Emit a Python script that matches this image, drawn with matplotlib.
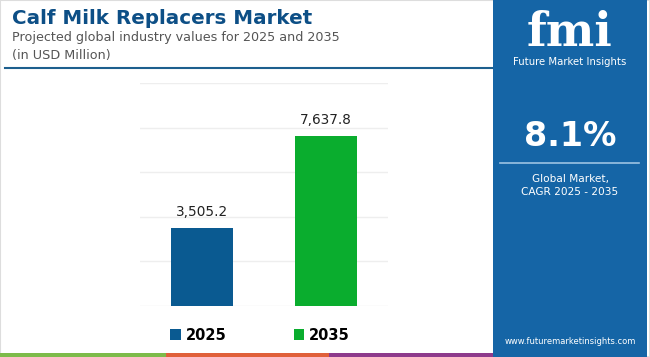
import matplotlib.pyplot as plt
from matplotlib.patches import Rectangle, Patch
from matplotlib.lines import Line2D

# data
years = ['2025', '2035']
values = [3505.2, 7637.8]
bar_colors = ['#0a5a91', '#0aad2e']
cagr = '8.1%'

W, H = 650, 357
fig = plt.figure(figsize=(W / 100, H / 100), dpi=100)
fig.patch.set_facecolor('white')


def fx(x):
    return x / W


def fy(y):
    return 1 - y / H


# light frame
fig.add_artist(Rectangle((0, 0), 1, 1, transform=fig.transFigure, fill=False,
                         edgecolor='#dddddd', lw=1.5))

# title block
fig.text(fx(12), fy(19), 'Calf Milk Replacers Market', fontsize=14.3, fontweight='bold',
         color='#0d4f86', va='center', ha='left')
fig.text(fx(12), fy(38), 'Projected global industry values for 2025 and 2035', fontsize=9.2,
         color='#555555', va='center', ha='left')
fig.text(fx(12), fy(56), '(in USD Million)', fontsize=9.2, color='#555555', va='center', ha='left')
fig.add_artist(Line2D([fx(5), fx(492)], [fy(68), fy(68)], transform=fig.transFigure,
                      color='#1d5f8e', lw=1.5))

# bar chart
ax = fig.add_axes([fx(140), fy(306), fx(388) - fx(140), fy(83) - fy(306)])
ax.bar(range(len(years)), values, width=0.5, color=bar_colors, zorder=3)
for i, v in enumerate(values):
    ax.text(i, v + 400, f'{v:,.1f}', ha='center', va='bottom', fontsize=9.8, color='#222222')
ax.set_xlim(-0.5, 1.5)
ax.set_ylim(0, 10000)
ax.set_yticks(range(0, 10001, 2000))
ax.grid(axis='y', color='#eeeeee', lw=1, zorder=0)
ax.tick_params(left=False, bottom=False, labelleft=False, labelbottom=False)
for s in ax.spines.values():
    s.set_visible(False)

# legend
handles = [Patch(facecolor=c, edgecolor='none') for c in bar_colors]
fig.legend(handles, years, loc='center', bbox_to_anchor=(fx(260), fy(335)), ncol=2,
           frameon=False, handlelength=0.7, handleheight=0.7, handletextpad=0.35,
           columnspacing=4.6, prop={'weight': 'bold', 'size': 10.5})

# bottom strip
strip = [(0, 166, '#7dbb4a'), (166, 329, '#e0603a'), (329, 494, '#8e3a8c')]
for x0, x1, c in strip:
    fig.add_artist(Rectangle((fx(x0), 0), fx(x1) - fx(x0), fy(353), transform=fig.transFigure,
                             facecolor=c, edgecolor='none'))

# right panel
fig.add_artist(Rectangle((fx(493), 0), fx(647) - fx(493), 1, transform=fig.transFigure,
                         facecolor='#1565a6', edgecolor='none'))
cx = fx(570)
fig.text(cx, fy(33), 'fmi', fontsize=33, fontweight='bold', color='white', ha='center',
         va='center', family='DejaVu Serif')
fig.text(cx, fy(62), 'Future Market Insights', fontsize=7.3, color='white', ha='center', va='center')
fig.text(cx, fy(137), cagr, fontsize=24, fontweight='bold', color='white', ha='center', va='center')
fig.add_artist(Line2D([fx(500), fx(639)], [fy(163), fy(163)], transform=fig.transFigure,
                      color='#9cc3e3', lw=1.2))
fig.text(cx, fy(179), 'Global Market,', fontsize=7.6, color='white', ha='center', va='center')
fig.text(cx, fy(192), 'CAGR 2025 - 2035', fontsize=7.6, color='white', ha='center', va='center')
fig.text(cx, fy(341), 'www.futuremarketinsights.com', fontsize=6.0, color='white', ha='center',
         va='center')

fig.savefig('out.png', dpi=100)
